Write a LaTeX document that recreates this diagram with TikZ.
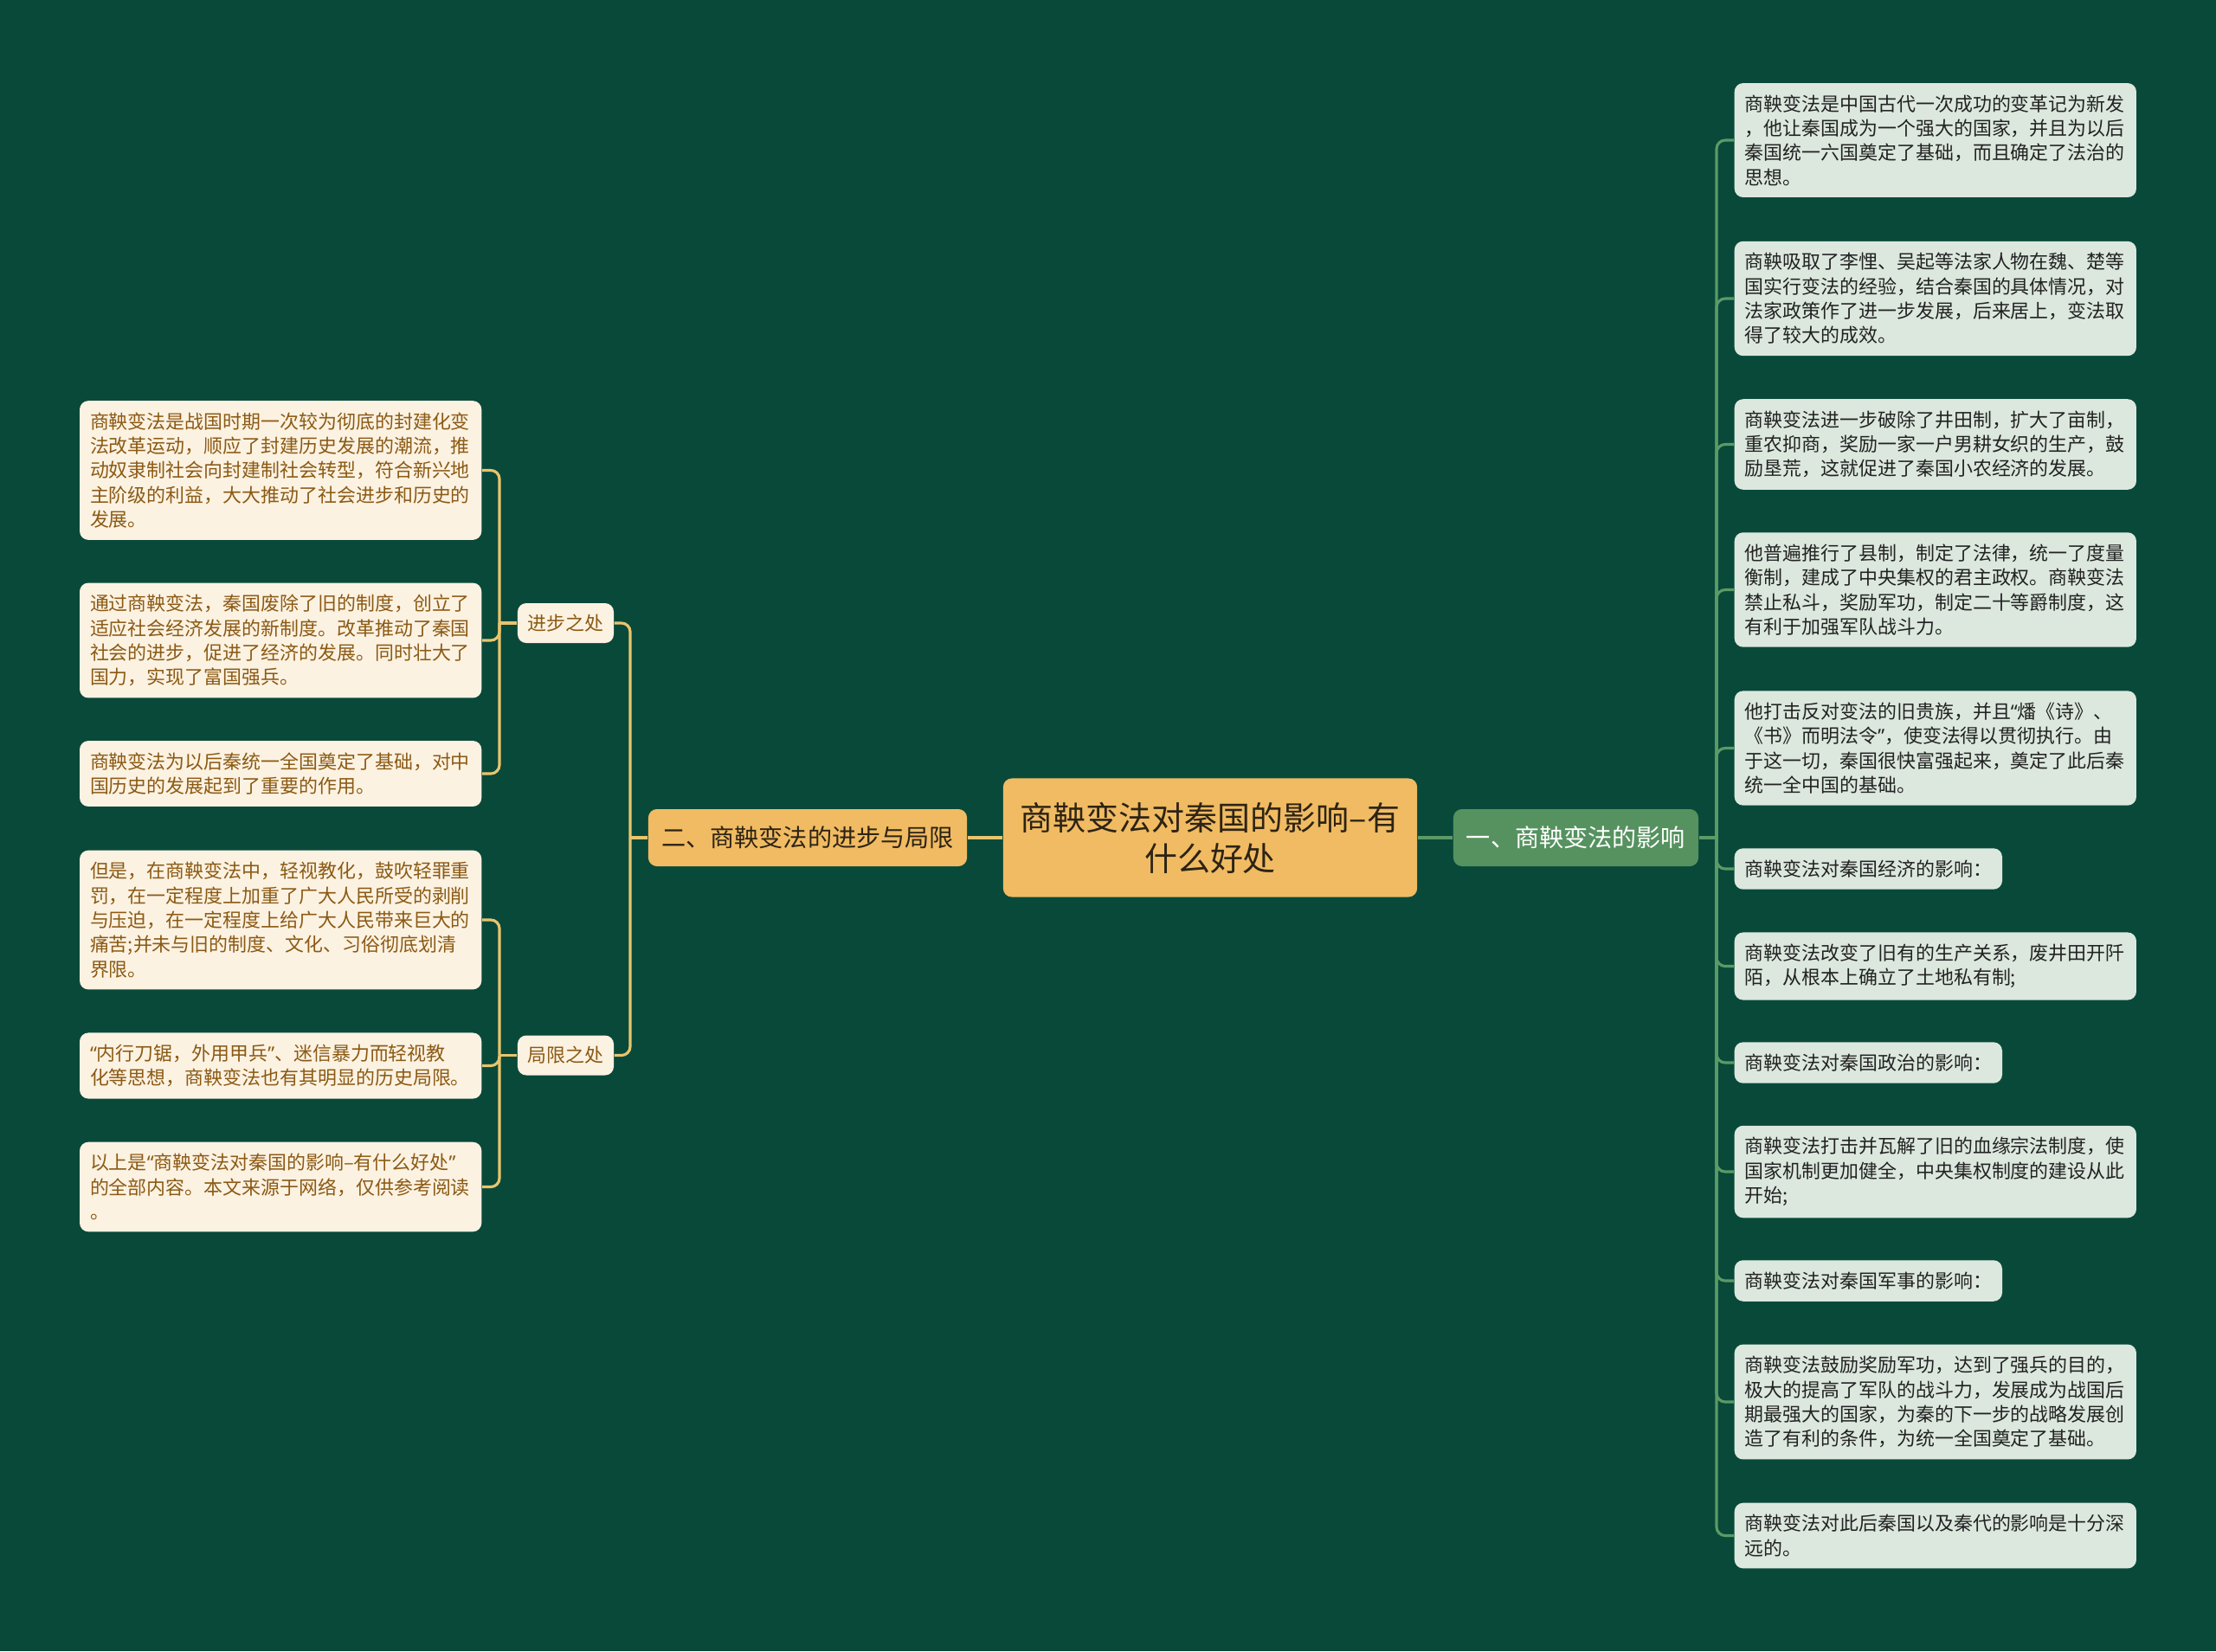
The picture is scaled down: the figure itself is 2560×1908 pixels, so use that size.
\documentclass[tikz,border=0pt]{standalone}
\usepackage{fontspec}
\setmainfont{Noto Sans CJK SC}
\newfontfamily\latinfont{Noto Sans}
\usepackage{tikz}
\usetikzlibrary{positioning}
\usepackage{xcolor}
\definecolor{bggreen}{RGB}{9,73,58}
\definecolor{rootfill}{RGB}{240,187,98}
\definecolor{roottext}{RGB}{45,35,20}
\definecolor{goldline}{RGB}{232,196,110}
\definecolor{creamfill}{RGB}{252,242,226}
\definecolor{browntext}{RGB}{139,90,20}
\definecolor{leafgreen}{RGB}{85,146,95}
\definecolor{greenline}{RGB}{92,154,102}
\definecolor{mintfill}{RGB}{220,232,222}
\definecolor{darktext}{RGB}{34,34,34}
\newcommand{\leaffont}{\fontsize{6.24pt}{8.05pt}\selectfont}
\newcommand{\branchfont}{\fontsize{8pt}{10pt}\selectfont}
\newcommand{\rootfont}{\fontsize{10.8pt}{13.4pt}\selectfont}
\newcommand{\lquo}{{\latinfont “}}
\newcommand{\rquo}{{\latinfont ”}}

\tikzset{
    rootbox/.style={fill=rootfill, text=roottext, rounded corners=0.1cm, font=\rootfont,
        align=center, minimum width=4.78cm, minimum height=1.37cm, inner sep=0pt},
    lbranch/.style={fill=rootfill, text=roottext, rounded corners=0.1cm, font=\branchfont,
        minimum width=3.68cm, minimum height=0.66cm, inner sep=0pt},
    rbranch/.style={fill=leafgreen, text=white, rounded corners=0.1cm, font=\branchfont,
        minimum width=2.83cm, minimum height=0.66cm, inner sep=0pt},
    subbox/.style={fill=creamfill, text=browntext, rounded corners=0.1cm, font=\leaffont,
        minimum width=1.11cm, minimum height=0.46cm, inner sep=0pt},
    lleaf/.style={fill=creamfill, text=browntext, rounded corners=0.1cm, font=\leaffont,
        align=left, text width=4.40cm, inner xsep=0.12cm, inner ysep=0.135cm, anchor=east},
    rleaf/.style={fill=mintfill, text=darktext, rounded corners=0.1cm, font=\leaffont,
        align=left, inner xsep=0.12cm, inner ysep=0.135cm, anchor=west},
    rwide/.style={rleaf, text width=4.40cm},
    lline/.style={draw=goldline, line width=0.9pt, rounded corners=0.1cm},
    rline/.style={draw=greenline, line width=0.9pt, rounded corners=0.1cm}
}

\begin{document}
\begin{tikzpicture}[x=0.01cm, y=-0.01cm]
    % background
    \fill[bggreen] (0,0) rectangle (2560,1908);
    \useasboundingbox (0,0) rectangle (2560,1908);

    % centre and main branches
    \node[rootbox] (root) at (1398,968) {商鞅变法对秦国的影响–有\\什么好处};
    \node[lbranch] (left) at (933,968) {二、商鞅变法的进步与局限};
    \node[rbranch] (right) at (1820.5,968) {一、商鞅变法的影响};
    \draw[lline] (root.west) -- (left.east);
    \draw[rline] (root.east) -- (right.east -| right.west);

    % right side leaves
    \node[rwide] (r1) at (2003,162) {商鞅变法是中国古代一次成功的变革记为新发\\，他让秦国成为一个强大的国家，并且为以后\\秦国统一六国奠定了基础，而且确定了法治的\\思想。};
    \node[rwide] (r2) at (2003,345) {商鞅吸取了李悝、吴起等法家人物在魏、楚等\\国实行变法的经验，结合秦国的具体情况，对\\法家政策作了进一步发展，后来居上，变法取\\得了较大的成效。};
    \node[rwide] (r3) at (2003,513.5) {商鞅变法进一步破除了井田制，扩大了亩制，\\重农抑商，奖励一家一户男耕女织的生产，鼓\\励垦荒，这就促进了秦国小农经济的发展。};
    \node[rwide] (r4) at (2003,681.5) {他普遍推行了县制，制定了法律，统一了度量\\衡制，建成了中央集权的君主政权。商鞅变法\\禁止私斗，奖励军功，制定二十等爵制度，这\\有利于加强军队战斗力。};
    \node[rwide] (r5) at (2003,864.5) {他打击反对变法的旧贵族，并且\lquo 燔《诗》、\\《书》而明法令\rquo ，使变法得以贯彻执行。由\\于这一切，秦国很快富强起来，奠定了此后秦\\统一全中国的基础。};
    \node[rleaf] (r6) at (2003,1004) {商鞅变法对秦国经济的影响：};
    \node[rwide] (r7) at (2003,1116.5) {商鞅变法改变了旧有的生产关系，废井田开阡\\陌，从根本上确立了土地私有制;};
    \node[rleaf] (r8) at (2003,1228) {商鞅变法对秦国政治的影响：};
    \node[rwide] (r9) at (2003,1354) {商鞅变法打击并瓦解了旧的血缘宗法制度，使\\国家机制更加健全，中央集权制度的建设从此\\开始;};
    \node[rleaf] (r10) at (2003,1480) {商鞅变法对秦国军事的影响：};
    \node[rwide] (r11) at (2003,1620) {商鞅变法鼓励奖励军功，达到了强兵的目的，\\极大的提高了军队的战斗力，发展成为战国后\\期最强大的国家，为秦的下一步的战略发展创\\造了有利的条件，为统一全国奠定了基础。};
    \node[rwide] (r12) at (2003,1774.5) {商鞅变法对此后秦国以及秦代的影响是十分深\\远的。};

    \coordinate (rjoin) at (1983,968);
    \draw[rline] (right.east) -- (rjoin);
    \foreach \n in {r1,r2,r3,r4,r5,r6,r7,r8,r9,r10,r11,r12}
        \draw[rline] (rjoin) |- (\n.west);

    % left side: sub topics
    \node[subbox] (good) at (653.5,720) {进步之处};
    \node[subbox] (bad) at (653.5,1219.5) {局限之处};
    \coordinate (ljoin) at (728,968);
    \draw[lline] (left.west) -- (ljoin);
    \draw[lline] (ljoin) |- (good.east);
    \draw[lline] (ljoin) |- (bad.east);

    % left side leaves
    \node[lleaf] (l1) at (557,543.5) {商鞅变法是战国时期一次较为彻底的封建化变\\法改革运动，顺应了封建历史发展的潮流，推\\动奴隶制社会向封建制社会转型，符合新兴地\\主阶级的利益，大大推动了社会进步和历史的\\发展。};
    \node[lleaf] (l2) at (557,740) {通过商鞅变法，秦国废除了旧的制度，创立了\\适应社会经济发展的新制度。改革推动了秦国\\社会的进步，促进了经济的发展。同时壮大了\\国力，实现了富国强兵。};
    \node[lleaf] (l3) at (557,894) {商鞅变法为以后秦统一全国奠定了基础，对中\\国历史的发展起到了重要的作用。};
    \node[lleaf] (l4) at (557,1063) {但是，在商鞅变法中，轻视教化，鼓吹轻罪重\\罚，在一定程度上加重了广大人民所受的剥削\\与压迫，在一定程度上给广大人民带来巨大的\\痛苦;并未与旧的制度、文化、习俗彻底划清\\界限。};
    \node[lleaf] (l5) at (557,1231.5) {\lquo 内行刀锯，外用甲兵\rquo 、迷信暴力而轻视教\\化等思想，商鞅变法也有其明显的历史局限。};
    \node[lleaf] (l6) at (557,1371.5) {以上是\lquo\mbox{商鞅变法对秦国的影响–有什么好处}\rquo\\的全部内容。本文来源于网络，仅供参考阅读\\。};

    \coordinate (goodjoin) at (577,720);
    \coordinate (badjoin) at (577,1219.5);
    \draw[lline] (good.west) -- (goodjoin);
    \draw[lline] (bad.west) -- (badjoin);
    \foreach \n in {l1,l2,l3}
        \draw[lline] (goodjoin) |- (\n.east);
    \foreach \n in {l4,l5,l6}
        \draw[lline] (badjoin) |- (\n.east);
\end{tikzpicture}
\end{document}
